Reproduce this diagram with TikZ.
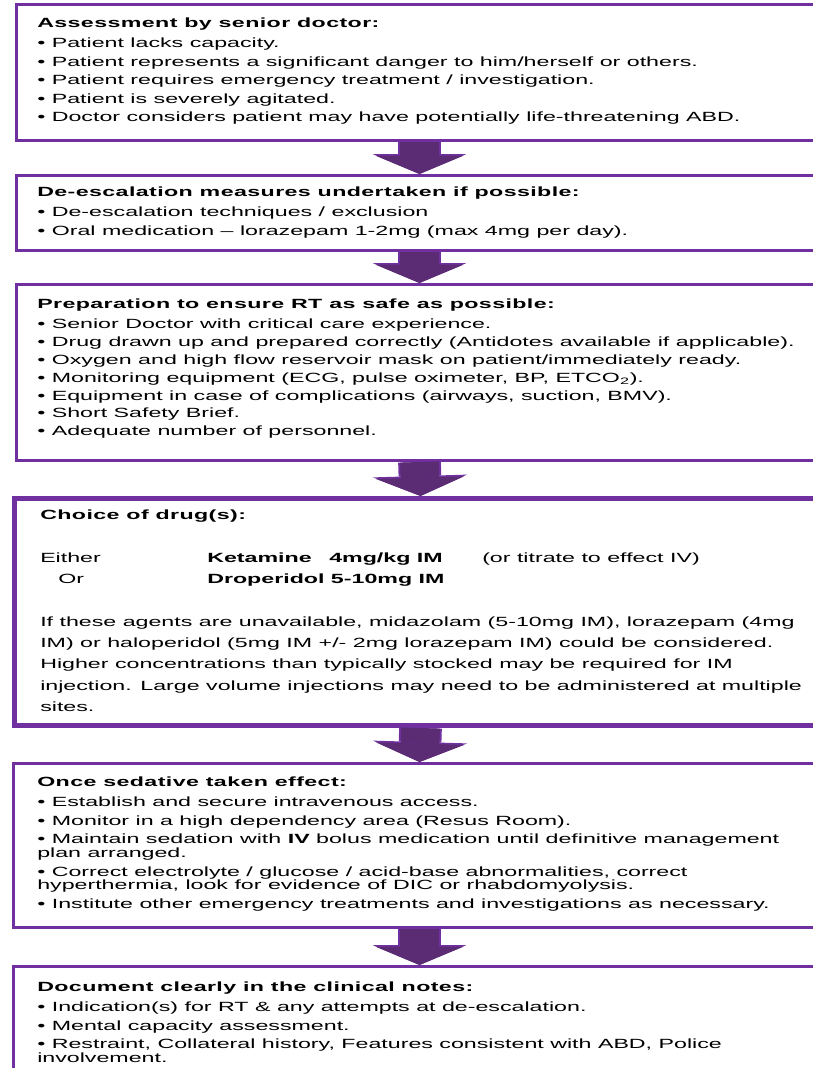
\documentclass[tikz,border=0pt]{standalone}
\usepackage{fontspec}
\setmainfont{Liberation Sans}[FakeStretch=1.74]
\newfontfamily\headfont{Liberation Sans}[FakeStretch=1.74,LetterSpace=3]
\usetikzlibrary{arrows.meta}
\definecolor{boxpurple}{HTML}{7030A0}
\definecolor{arrowpurple}{HTML}{5B2B73}

\begin{document}
\begin{tikzpicture}[x=0.75pt,y=-0.75pt]
    \tikzset{box/.style = {draw=boxpurple, line width=2.25pt, anchor=north west, inner sep=0pt}}
    \tikzset{txt/.style = {anchor=north west, inner sep=0pt, align=left, font=\fontsize{10pt}{10.35pt}\selectfont}}
    \tikzset{flowedge/.style = {draw=boxpurple, line width=32pt, -{Triangle[width=70.5pt, length=15pt, line width=0pt]}}}
    \tikzset{flow/.style = {draw=arrowpurple, line width=29pt, -{Triangle[width=66pt, length=13.75pt, line width=0pt]}}}

    \useasboundingbox (0,0) rectangle (813,1068);
    \clip (0,0) rectangle (813,1068);

    % boxes
    \node[box, minimum width=604.5pt, minimum height=102pt] (b1) at (15,3) {};
    \node[box, minimum width=604.5pt, minimum height=56.25pt] (b2) at (15,174) {};
    \node[box, minimum width=604.5pt, minimum height=132pt] (b3) at (15,283) {};
    \node[box, line width=3.75pt, minimum width=609pt, minimum height=170.25pt] (b4) at (12,496) {};
    \node[box, minimum width=609pt, minimum height=123pt] (b5) at (12,762) {};
    \node[box, minimum width=609pt, minimum height=97.5pt] (b6) at (12,965) {};

    % texts
    \node[txt] (t1) at (37,17.7) {{\headfont\bfseries Assessment by senior doctor:}\\[4.6pt]
        • Patient lacks capacity.\\[3.6pt]
        • Patient represents a significant danger to him/herself or others.\\[3.6pt]
        • Patient requires emergency treatment / investigation.\\[3.6pt]
        • Patient is severely agitated.\\[3.6pt]
        • Doctor considers patient may have potentially life-threatening ABD.};
    \node[txt] (t2) at (37,186.7) {{\headfont\bfseries De-escalation measures undertaken if possible:}\\[4.6pt]
        • De-escalation techniques / exclusion\\[3.6pt]
        • Oral medication – lorazepam 1-2mg (max 4mg per day).};
    \node[txt] (t3) at (37,299) {{\headfont\bfseries Preparation to ensure RT as safe as possible:}\\[4.6pt]
        • Senior Doctor with critical care experience.\\[3pt]
        • Drug drawn up and prepared correctly (Antidotes available if applicable).\\[3pt]
        • Oxygen and high flow reservoir mask on patient/immediately ready.\\[3pt]
        • Monitoring equipment (ECG, pulse oximeter, BP, ETCO\textsubscript{2}).\\[3pt]
        • Equipment in case of complications (airways, suction, BMV).\\[3pt]
        • Short Safety Brief.\\[3pt]
        • Adequate number of personnel.};
    \node[txt, font=\fontsize{10pt}{16pt}\selectfont] (t4) at (40,509.7) {{\headfont\bfseries Choice of drug(s):}\\[16pt]
        \makebox[125.25pt][l]{Either}\makebox[91.5pt][l]{\textbf{Ketamine}}\makebox[114.75pt][l]{\textbf{4mg/kg IM}}(or titrate to effect IV)\\
        \hspace*{13.5pt}\makebox[111.75pt][l]{Or}\textbf{Droperidol 5-10mg IM}\\[16pt]
        If these agents are unavailable, midazolam (5-10mg IM), lorazepam (4mg\\
        IM) or haloperidol (5mg IM +/- 2mg lorazepam IM) could be considered.\\
        Higher concentrations than typically stocked may be required for IM\\
        injection. Large volume injections may need to be administered at multiple\\
        sites.};
    \node[txt] (t5) at (37,776.7) {{\headfont\bfseries Once sedative taken effect:}\\[4.6pt]
        • Establish and secure intravenous access.\\[3.6pt]
        • Monitor in a high dependency area (Resus Room).\\[3.6pt]
        • Maintain sedation with \textbf{IV} bolus medication until definitive management\\
        plan arranged.\\[3.6pt]
        • Correct electrolyte / glucose / acid-base abnormalities, correct\\
        hyperthermia, look for evidence of DIC or rhabdomyolysis.\\[3.6pt]
        • Institute other emergency treatments and investigations as necessary.};
    \node[txt] (t6) at (37,981.7) {{\headfont\bfseries Document clearly in the clinical notes:}\\[4.6pt]
        • Indication(s) for RT \& any attempts at de-escalation.\\[3.6pt]
        • Mental capacity assessment.\\[3.6pt]
        • Restraint, Collateral history, Features consistent with ABD, Police\\
        involvement.};

    % arrows
    \foreach \from/\to in {b1/b2, b2/b3, b3/b4, b4/b5, b5/b6} {
        \draw[flowedge] (\from.south) -- (\to.north);
        \draw[flow] (\from.south) -- (\to.north);
    }
\end{tikzpicture}
\end{document}
